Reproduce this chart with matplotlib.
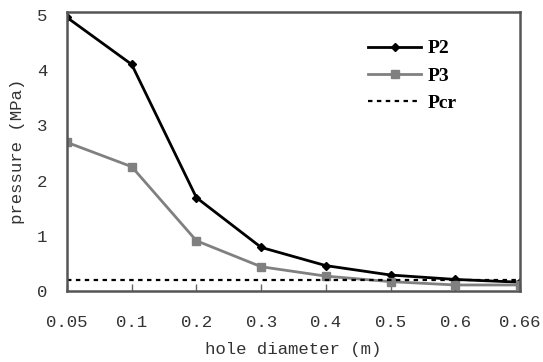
import matplotlib.pyplot as plt

# hole diameters are plotted as evenly spaced categories
diameters = ['0.05', '0.1', '0.2', '0.3', '0.4', '0.5', '0.6', '0.66']
p2 = [4.95, 4.10, 1.69, 0.79, 0.46, 0.29, 0.21, 0.16]
p3 = [2.69, 2.25, 0.91, 0.44, 0.27, 0.17, 0.11, 0.11]
pcr = [0.2] * len(diameters)

fig = plt.figure(figsize=(5.43, 3.62), dpi=100)
ax = fig.add_axes([0.1234, 0.196, 0.8342, 0.771])

x = list(range(len(diameters)))
ax.plot(x, p2, color='black', lw=2, marker='D', ms=4, label='P2')
ax.plot(x, p3, color='#808080', lw=2, marker='s', ms=5.5, label='P3')
ax.plot(x, pcr, color='black', lw=1.6, ls=(0, (2, 2)), label='Pcr')

ax.set_xlim(0, len(diameters) - 1)
ax.set_ylim(0, 5.05)
ax.set_xticks(x)
ax.set_xticklabels(diameters)
ax.set_yticks([0, 1, 2, 3, 4, 5])

mono = 'Liberation Mono'
for lab in ax.get_xticklabels() + ax.get_yticklabels():
    lab.set_family(mono)
    lab.set_fontsize(12.5)
    lab.set_color('#333333')
ax.tick_params(axis='x', direction='in', length=5, width=1, color='#666666', pad=17)
ax.tick_params(axis='y', length=0, pad=14)

ax.set_xlabel('hole diameter (m)', family=mono, fontsize=12.5, color='#333333', labelpad=9)
ax.set_ylabel('pressure (MPa)', family=mono, fontsize=12.5, color='#333333', labelpad=9)

for s in ax.spines.values():
    s.set_color('#555555')
    s.set_linewidth(1.8)

leg = ax.legend(loc='upper right', bbox_to_anchor=(0.90, 0.963), frameon=False,
                prop={'family': 'Liberation Serif', 'weight': 'bold', 'size': 14},
                handlelength=2.75, labelspacing=0.5, handletextpad=0.35)

plt.savefig('out.png', dpi=100)
